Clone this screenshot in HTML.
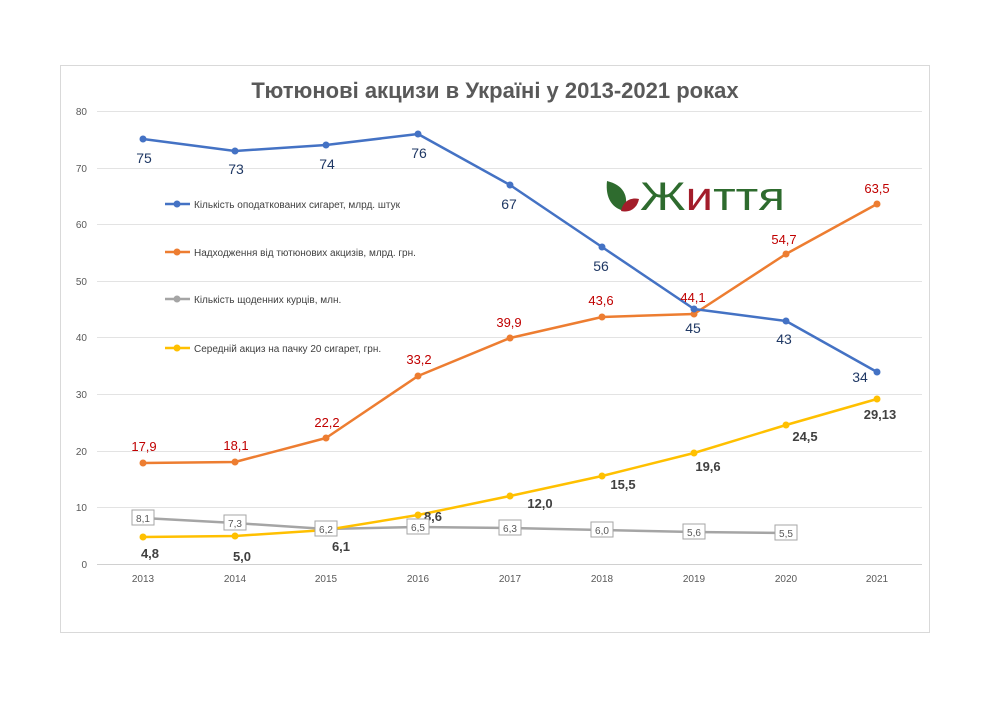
<!DOCTYPE html><html><head><meta charset="utf-8"><style>body{margin:0;background:#fff}svg{display:block;font-family:"Liberation Sans","DejaVu Sans",sans-serif}</style></head><body>
<svg width="1000" height="707" viewBox="0 0 1000 707">
<rect x="60.5" y="65.5" width="869" height="567" fill="#fff" stroke="#d9d9d9"/>
<text x="495" y="98" text-anchor="middle" font-size="22" font-weight="bold" fill="#595959">Тютюнові акцизи в Україні у 2013-2021 роках</text>
<g stroke="#e3e3e3" stroke-width="1">
<line x1="97" x2="922" y1="111.5" y2="111.5"/><line x1="97" x2="922" y1="168.5" y2="168.5"/><line x1="97" x2="922" y1="224.5" y2="224.5"/><line x1="97" x2="922" y1="281.5" y2="281.5"/><line x1="97" x2="922" y1="337.5" y2="337.5"/><line x1="97" x2="922" y1="394.5" y2="394.5"/><line x1="97" x2="922" y1="451.5" y2="451.5"/><line x1="97" x2="922" y1="507.5" y2="507.5"/><line x1="97" x2="922" y1="564.5" y2="564.5" stroke="#d0d0d0"/></g>
<g font-size="10" fill="#595959" text-anchor="end"><text x="87" y="115">80</text><text x="87" y="172">70</text><text x="87" y="228">60</text><text x="87" y="285">50</text><text x="87" y="341">40</text><text x="87" y="398">30</text><text x="87" y="455">20</text><text x="87" y="511">10</text><text x="87" y="568">0</text></g>
<g font-size="10" fill="#595959" text-anchor="middle"><text x="143" y="582">2013</text><text x="235" y="582">2014</text><text x="326" y="582">2015</text><text x="418" y="582">2016</text><text x="510" y="582">2017</text><text x="602" y="582">2018</text><text x="694" y="582">2019</text><text x="786" y="582">2020</text><text x="877" y="582">2021</text></g>
<g fill="none" stroke-width="2.5" stroke-linejoin="round">
<polyline stroke="#a5a5a5" points="143,518 235,523 326,529 418,527 510,528 602,530 694,532 786,533"/>
<polyline stroke="#ffc000" points="143,537 235,536 326,530 418,515 510,496 602,476 694,453 786,425 877,399"/>
<polyline stroke="#ed7d31" points="143,463 235,462 326,438 418,376 510,338 602,317 694,314 786,254 877,204"/>
<polyline stroke="#4472c4" points="143,139 235,151 326,145 418,134 510,185 602,247 694,309 786,321 877,372"/>
</g>
<g fill="#a5a5a5"><circle cx="143" cy="518" r="3.5"/><circle cx="235" cy="523" r="3.5"/><circle cx="326" cy="529" r="3.5"/><circle cx="418" cy="527" r="3.5"/><circle cx="510" cy="528" r="3.5"/><circle cx="602" cy="530" r="3.5"/><circle cx="694" cy="532" r="3.5"/><circle cx="786" cy="533" r="3.5"/></g>
<g fill="#ffc000"><circle cx="143" cy="537" r="3.5"/><circle cx="235" cy="536" r="3.5"/><circle cx="326" cy="530" r="3.5"/><circle cx="418" cy="515" r="3.5"/><circle cx="510" cy="496" r="3.5"/><circle cx="602" cy="476" r="3.5"/><circle cx="694" cy="453" r="3.5"/><circle cx="786" cy="425" r="3.5"/><circle cx="877" cy="399" r="3.5"/></g>
<g fill="#ed7d31"><circle cx="143" cy="463" r="3.5"/><circle cx="235" cy="462" r="3.5"/><circle cx="326" cy="438" r="3.5"/><circle cx="418" cy="376" r="3.5"/><circle cx="510" cy="338" r="3.5"/><circle cx="602" cy="317" r="3.5"/><circle cx="694" cy="314" r="3.5"/><circle cx="786" cy="254" r="3.5"/><circle cx="877" cy="204" r="3.5"/></g>
<g fill="#4472c4"><circle cx="143" cy="139" r="3.5"/><circle cx="235" cy="151" r="3.5"/><circle cx="326" cy="145" r="3.5"/><circle cx="418" cy="134" r="3.5"/><circle cx="510" cy="185" r="3.5"/><circle cx="602" cy="247" r="3.5"/><circle cx="694" cy="309" r="3.5"/><circle cx="786" cy="321" r="3.5"/><circle cx="877" cy="372" r="3.5"/></g>
<g font-size="14" fill="#1f3864" text-anchor="middle"><text x="144" y="163">75</text><text x="236" y="174">73</text><text x="327" y="169">74</text><text x="419" y="158">76</text><text x="509" y="209">67</text><text x="601" y="271">56</text><text x="693" y="333">45</text><text x="784" y="344">43</text><text x="860" y="382">34</text></g>
<g font-size="13" fill="#c00000" text-anchor="middle"><text x="144" y="451">17,9</text><text x="236" y="450">18,1</text><text x="327" y="427">22,2</text><text x="419" y="364">33,2</text><text x="509" y="327">39,9</text><text x="601" y="305">43,6</text><text x="693" y="302">44,1</text><text x="784" y="244">54,7</text><text x="877" y="193">63,5</text></g>
<g font-size="13" font-weight="bold" fill="#404040" text-anchor="middle"><text x="150" y="558">4,8</text><text x="242" y="561">5,0</text><text x="341" y="551">6,1</text><text x="433" y="521">8,6</text><text x="540" y="508">12,0</text><text x="623" y="489">15,5</text><text x="708" y="471">19,6</text><text x="805" y="441">24,5</text><text x="880" y="419">29,13</text></g>
<g font-size="10" fill="#595959" text-anchor="middle" stroke-width="1">
<g transform="translate(143,518)"><rect x="-11" y="-8" width="22" height="15" fill="#fff" stroke="#a5a5a5"/><text y="4">8,1</text></g>
<g transform="translate(235,523)"><rect x="-11" y="-8" width="22" height="15" fill="#fff" stroke="#a5a5a5"/><text y="4">7,3</text></g>
<g transform="translate(326,529)"><rect x="-11" y="-8" width="22" height="15" fill="#fff" stroke="#a5a5a5"/><text y="4">6,2</text></g>
<g transform="translate(418,527)"><rect x="-11" y="-8" width="22" height="15" fill="#fff" stroke="#a5a5a5"/><text y="4">6,5</text></g>
<g transform="translate(510,528)"><rect x="-11" y="-8" width="22" height="15" fill="#fff" stroke="#a5a5a5"/><text y="4">6,3</text></g>
<g transform="translate(602,530)"><rect x="-11" y="-8" width="22" height="15" fill="#fff" stroke="#a5a5a5"/><text y="4">6,0</text></g>
<g transform="translate(694,532)"><rect x="-11" y="-8" width="22" height="15" fill="#fff" stroke="#a5a5a5"/><text y="4">5,6</text></g>
<g transform="translate(786,533)"><rect x="-11" y="-8" width="22" height="15" fill="#fff" stroke="#a5a5a5"/><text y="4">5,5</text></g>
</g>
<g font-size="10" fill="#404040" stroke-width="2.5">
<line x1="165" x2="190" y1="204" y2="204" stroke="#4472c4"/><circle cx="177" cy="204" r="3.5" fill="#4472c4"/><text x="194" y="208">Кількість оподаткованих сигарет, млрд. штук</text>
<line x1="165" x2="190" y1="252" y2="252" stroke="#ed7d31"/><circle cx="177" cy="252" r="3.5" fill="#ed7d31"/><text x="194" y="256">Надходження від тютюнових акцизів, млрд. грн.</text>
<line x1="165" x2="190" y1="299" y2="299" stroke="#a5a5a5"/><circle cx="177" cy="299" r="3.5" fill="#a5a5a5"/><text x="194" y="303">Кількість щоденних курців, млн.</text>
<line x1="165" x2="190" y1="348" y2="348" stroke="#ffc000"/><circle cx="177" cy="348" r="3.5" fill="#ffc000"/><text x="194" y="352">Середній акциз на пачку 20 сигарет, грн.</text>
</g>
<g transform="translate(605,181)">
<path d="M2,0 C18,4 24,14 20,30 C8,28 0,18 2,0Z" fill="#2e6b2e"/>
<path d="M16,30 C18,20 26,16 34,18 C32,28 24,32 16,30Z" fill="#a31d2a"/>
</g>
<text x="640" y="210" font-size="40" textLength="145" lengthAdjust="spacingAndGlyphs" fill="#2e6b2e">Ж<tspan fill="#a31d2a">и</tspan>ття</text>
</svg>
</body></html>
